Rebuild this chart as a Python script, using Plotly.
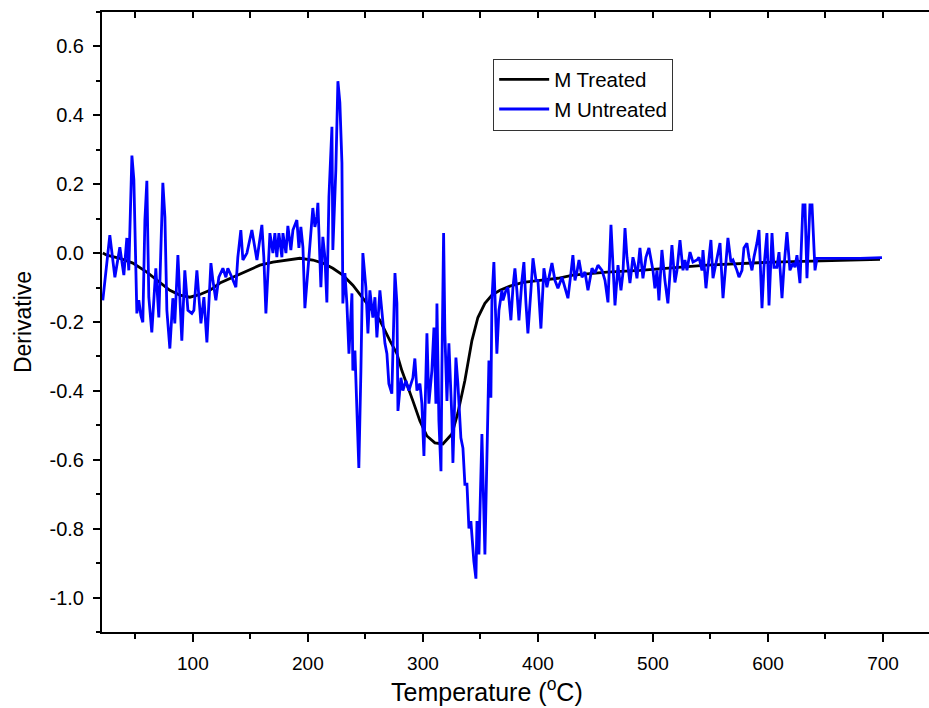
import plotly.graph_objects as go

# M Treated (smooth DTG curve)
treated_temp = [21.7, 25.2, 36.5, 47.8, 60.0, 71.3, 80.0, 88.7, 97.4, 106.1, 114.8, 123.5,
                134.8, 147.0, 158.3, 169.6, 181.7, 193.0, 204.3, 213.0, 221.7, 230.4, 239.1,
                247.0, 253.9, 262.6, 271.3, 277.4, 281.7, 286.1, 291.3, 297.4, 303.5, 310.4,
                317.4, 325.2, 330.4, 336.5, 342.6, 347.8, 353.9, 360.0, 367.0, 375.7, 387.0,
                401.7, 417.4, 430.4, 460.0, 488.7, 547.0, 604.3, 662.6, 697.4]
treated_deriv = [0.000, -0.006, -0.015, -0.029, -0.055, -0.085, -0.108, -0.122, -0.128, -0.120,
                 -0.108, -0.087, -0.070, -0.050, -0.035, -0.026, -0.020, -0.015, -0.020, -0.029,
                 -0.044, -0.064, -0.093, -0.128, -0.157, -0.195, -0.254, -0.292, -0.341, -0.379,
                 -0.429, -0.487, -0.531, -0.551, -0.554, -0.525, -0.464, -0.370, -0.254, -0.187,
                 -0.146, -0.122, -0.108, -0.096, -0.085, -0.079, -0.073, -0.064, -0.055, -0.050,
                 -0.035, -0.026, -0.020, -0.018]

# M Untreated (noisy DTG curve)
untreated_temp = [
    21.7, 27.8, 32.2, 36.5, 40.0, 42.6, 44.3, 47.0, 48.7, 51.3, 53.0, 54.8, 56.5, 58.3, 60.0,
    61.7, 64.3, 67.8, 70.4, 73.9, 75.7, 77.4, 80.0, 82.6, 84.3, 87.0, 90.4, 93.0, 95.7, 99.1,
    100.9, 103.5, 107.0, 109.6, 112.2, 115.7, 117.4, 120.0, 122.6, 126.1, 128.7, 130.4, 133.9,
    137.4, 139.1, 141.7, 143.5, 147.0, 151.3, 153.0, 155.7, 160.0, 161.7, 163.5, 167.0, 169.6,
    171.3, 173.0, 174.8, 177.4, 178.3, 180.9, 182.6, 185.2, 187.0, 190.4, 192.2, 193.9, 195.7,
    197.4, 200.0, 202.6, 204.3, 206.1, 207.8, 208.7, 211.3, 213.0, 214.8, 216.5, 218.3, 220.9,
    221.7, 224.3, 226.1, 227.8, 229.6, 230.4, 232.2, 233.9, 235.7, 238.3, 239.1, 240.9, 242.6,
    244.3, 246.1, 247.8, 250.4, 252.2, 253.9, 256.5, 258.3, 260.0, 262.6, 265.2, 267.0, 268.7,
    270.4, 273.0, 275.7, 277.4, 278.3, 280.9, 282.6, 285.2, 287.8, 291.3, 293.0, 294.8, 297.4,
    299.1, 300.9, 303.5, 305.2, 307.8, 309.6, 311.3, 312.2, 313.9, 315.7, 316.5, 318.0, 319.1,
    320.9, 322.6, 325.2, 326.1, 328.7, 330.4, 333.0, 334.8, 336.5, 338.3, 340.0, 341.7, 343.5,
    344.3, 346.1, 347.0, 348.7, 351.3, 353.9, 355.7, 357.4, 359.1, 360.0, 361.7, 363.5, 364.3,
    366.1, 368.7, 369.6, 372.2, 373.9, 376.5, 378.3, 380.0, 381.7, 383.5, 386.1, 387.8, 389.6,
    391.3, 393.9, 395.7, 398.3, 400.0, 402.6, 405.2, 407.8, 412.2, 414.8, 417.4, 420.9, 423.5,
    426.1, 428.7, 430.4, 432.2, 433.9, 435.7, 438.3, 440.9, 443.5, 447.0, 449.6, 452.2, 455.7,
    458.3, 460.9, 463.5, 465.2, 467.0, 469.6, 472.2, 473.9, 475.7, 477.4, 480.0, 482.6, 484.3,
    486.1, 488.7, 491.3, 493.9, 496.5, 500.0, 501.7, 503.5, 505.2, 507.8, 510.4, 513.0, 516.5,
    519.1, 520.9, 523.5, 526.1, 527.8, 529.6, 532.2, 534.8, 538.3, 540.0, 542.6, 543.5, 546.1,
    547.8, 550.4, 552.2, 555.7, 558.3, 560.9, 563.5, 565.2, 567.8, 569.6, 573.0, 574.8, 577.4,
    579.1, 581.7, 583.5, 586.1, 587.8, 590.4, 592.2, 594.8, 596.5, 599.1, 600.9, 603.5, 605.2,
    607.8, 609.6, 612.2, 613.9, 616.5, 619.1, 621.7, 623.5, 625.2, 627.8, 630.4, 632.2, 633.9,
    636.5, 638.3, 640.9, 642.6, 660.0, 680.0, 699.1]
untreated_deriv = [
    -0.137, 0.052, -0.070, 0.017, -0.064, 0.044, -0.050, 0.283, 0.213, -0.175, -0.137, -0.181,
    -0.201, 0.096, 0.210, -0.128, -0.230, -0.044, -0.187, 0.204, 0.105, -0.166, -0.277, -0.131,
    -0.204, -0.006, -0.254, -0.050, -0.166, -0.175, -0.166, -0.050, -0.204, -0.128, -0.259,
    -0.029, -0.079, -0.137, -0.070, -0.044, -0.070, -0.044, -0.070, -0.099, -0.012, 0.067,
    -0.020, 0.000, 0.067, 0.029, -0.020, 0.082, -0.012, -0.175, 0.058, 0.000, 0.058, -0.012,
    0.058, -0.012, 0.058, 0.000, 0.079, 0.009, 0.067, 0.096, 0.015, 0.076, 0.017, -0.160,
    -0.041, 0.076, 0.131, 0.076, 0.105, 0.146, -0.099, 0.047, -0.012, -0.143, 0.163, 0.367,
    0.009, 0.242, 0.499, 0.437, 0.262, -0.146, -0.058, -0.146, -0.292, -0.117, -0.341, -0.283,
    -0.437, -0.624, -0.341, 0.000, -0.099, -0.233, -0.108, -0.187, -0.128, -0.245, -0.108,
    -0.204, -0.262, -0.292, -0.379, -0.408, -0.058, -0.146, -0.458, -0.362, -0.399, -0.370,
    -0.399, -0.362, -0.306, -0.399, -0.379, -0.437, -0.589, -0.233, -0.437, -0.341, -0.216,
    -0.437, -0.146, -0.487, -0.633, -0.341, 0.058, -0.233, -0.429, -0.262, -0.478, -0.609,
    -0.303, -0.379, -0.536, -0.566, -0.671, -0.671, -0.799, -0.778, -0.875, -0.895, -0.945,
    -0.778, -0.875, -0.525, -0.875, -0.624, -0.312, -0.420, -0.137, -0.026, -0.233, -0.292,
    -0.166, -0.108, -0.137, -0.108, -0.099, -0.195, -0.099, -0.044, -0.108, -0.195, -0.079,
    -0.026, -0.146, -0.233, -0.108, -0.015, -0.079, -0.079, -0.219, -0.044, -0.099, -0.029,
    -0.079, -0.102, -0.070, -0.102, -0.131, -0.058, -0.006, -0.079, -0.055, -0.020, -0.070,
    -0.055, -0.108, -0.044, -0.058, -0.035, -0.050, -0.079, -0.143, 0.082, -0.050, -0.152,
    -0.035, -0.108, -0.058, 0.073, -0.012, -0.087, -0.012, -0.035, -0.073, 0.015, -0.073,
    -0.012, 0.015, -0.050, -0.102, -0.050, -0.137, 0.009, -0.079, -0.146, 0.023, -0.085,
    -0.050, 0.038, -0.050, -0.020, -0.050, 0.003, -0.026, -0.020, -0.012, -0.050, 0.009,
    -0.102, -0.044, 0.038, -0.073, -0.012, 0.029, -0.131, -0.020, 0.044, -0.026, -0.020,
    -0.050, -0.070, -0.050, 0.015, 0.029, -0.012, -0.050, -0.012, 0.029, 0.067, -0.160,
    -0.041, 0.058, -0.152, 0.058, -0.041, -0.041, 0.003, -0.131, -0.041, 0.061, -0.050,
    -0.029, -0.041, -0.006, -0.087, 0.140, 0.140, -0.073, 0.140, 0.140, -0.050, -0.015,
    -0.016, -0.015, -0.013]

x_ticks = [100, 200, 300, 400, 500, 600, 700]
y_ticks = [-1.0, -0.8, -0.6, -0.4, -0.2, 0.0, 0.2, 0.4, 0.6]
y_labels = ["-1.0", "-0.8", "-0.6", "-0.4", "-0.2", "0.0", "0.2", "0.4", "0.6"]

FONT = "Liberation Sans, Arial, sans-serif"

fig = go.Figure()
fig.add_trace(go.Scatter(x=treated_temp, y=treated_deriv, name="M Treated", mode="lines",
                         line=dict(color="black", width=2.8)))
fig.add_trace(go.Scatter(x=untreated_temp, y=untreated_deriv, name="M Untreated", mode="lines",
                         line=dict(color="#0000ff", width=2.8)))
# dummy trace so the top axis gets drawn
fig.add_trace(go.Scatter(x=[treated_temp[0]], y=[treated_deriv[0]], xaxis="x2", mode="none",
                         showlegend=False, hoverinfo="skip"))

# x title sits a bit left of the plot centre in the original
fig.add_annotation(text="Temperature (<sup>o</sup>C)", xref="paper", yref="paper",
                   x=0.4655, y=-0.094, xanchor="center", yanchor="middle",
                   showarrow=False, font=dict(size=25))

fig.update_layout(
    width=929, height=708,
    margin=dict(l=102, r=0, t=12, b=76),
    plot_bgcolor="white", paper_bgcolor="white",
    font=dict(family=FONT, color="black"),
    showlegend=True,
    legend=dict(x=0.473, y=0.925, xanchor="left", yanchor="top",
                bgcolor="white", bordercolor="#333", borderwidth=1,
                font=dict(size=20.5), itemwidth=50),
    xaxis=dict(range=[21, 740], showgrid=False, zeroline=False,
               showline=True, linecolor="black", linewidth=2,
               tickmode="array", tickvals=x_ticks, ticks="outside", ticklen=8, tickwidth=2,
               tickcolor="black", tickfont=dict(size=19), ticklabelstandoff=5,
               minor=dict(tickmode="linear", tick0=50, dtick=100, ticks="outside",
                          ticklen=5, tickwidth=2, tickcolor="black")),
    xaxis2=dict(range=[21, 740], overlaying="x", side="top", anchor="y",
                showgrid=False, zeroline=False, showline=True, linecolor="black", linewidth=2,
                tickmode="linear", tick0=50, dtick=50, ticks="inside", ticklen=6,
                tickwidth=2, tickcolor="black", showticklabels=False),
    yaxis=dict(range=[-1.1, 0.7], showgrid=False, zeroline=False,
               showline=True, linecolor="black", linewidth=2,
               tickmode="array", tickvals=y_ticks, ticktext=y_labels,
               ticks="outside", ticklen=7, tickwidth=2, tickcolor="black",
               tickfont=dict(size=20), ticklabelstandoff=5,
               minor=dict(tickmode="linear", tick0=0.1, dtick=0.2, ticks="outside",
                          ticklen=4, tickwidth=2, tickcolor="black"),
               title=dict(text="Derivative", font=dict(size=23), standoff=11)),
)

fig.write_html("out.html", config={"displayModeBar": False},
               post_script="document.body.style.margin='0';")
